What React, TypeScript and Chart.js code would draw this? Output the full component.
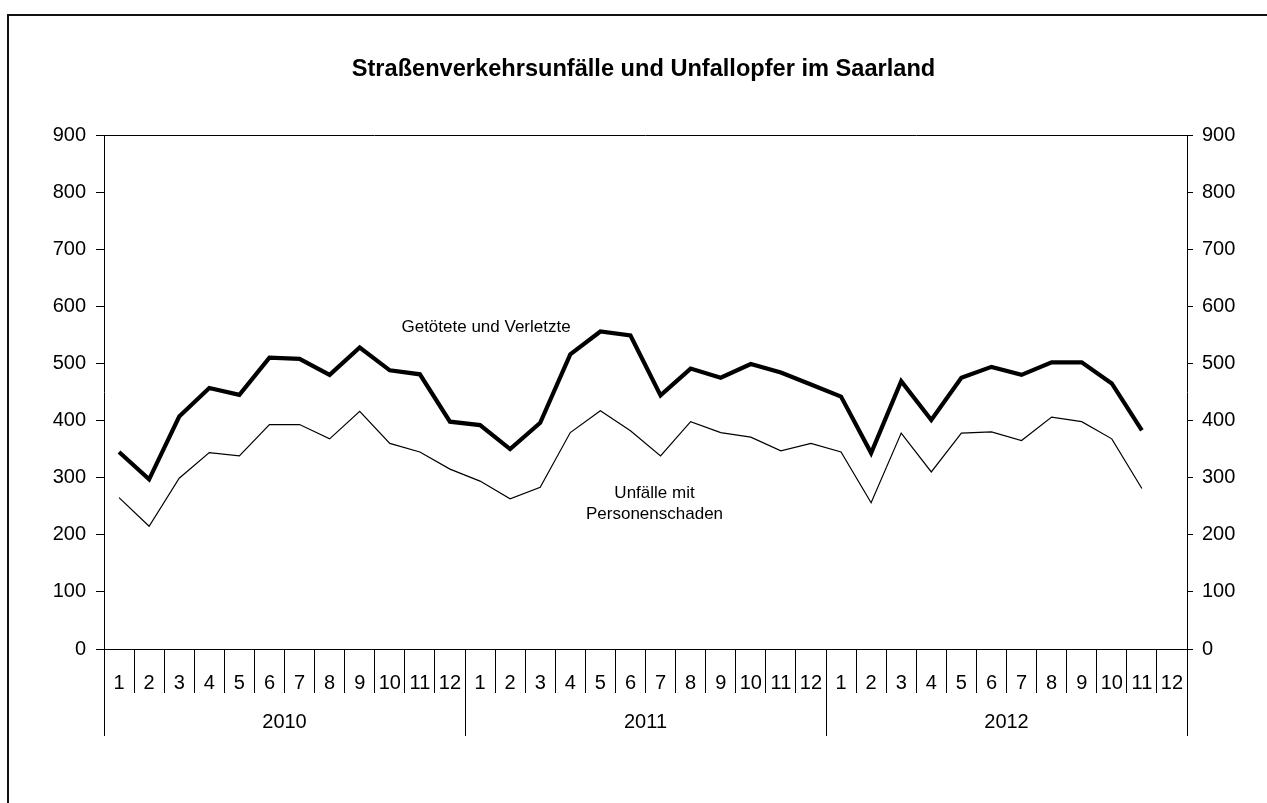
import React, { useEffect, useRef } from "react";
import { Chart, registerables } from "chart.js";

Chart.register(...registerables);

const monthLabels = [
  "1", "2", "3", "4", "5", "6", "7", "8", "9", "10", "11", "12",
  "1", "2", "3", "4", "5", "6", "7", "8", "9", "10", "11", "12",
  "1", "2", "3", "4", "5", "6", "7", "8", "9", "10", "11", "12",
];
const yearLabels = ["2010", "2011", "2012"];

const getoeteteVerletzte = [
  345, 297, 407, 457, 445, 510, 508, 480, 528, 488, 481, 398,
  392, 350, 396, 516, 556, 549, 444, 491, 475, 499, 484, 463,
  442, 343, 469, 401, 475, 494, 480, 502, 502, 465, 383, null,
];
const unfaelleMitPersonenschaden = [
  265, 215, 299, 344, 338, 393, 393, 368, 416, 360, 345, 315,
  294, 263, 283, 379, 417, 382, 338, 398, 379, 371, 347, 360,
  345, 256, 378, 310, 378, 380, 365, 406, 398, 368, 281, null,
];

const titleText = "Straßenverkehrsunfälle und Unfallopfer im Saarland";
const labelGetoetete = "Getötete und Verletzte";
const labelUnfaelle = ["Unfälle mit", "Personenschaden"];

const FONT = "'Liberation Sans', Arial, sans-serif";

export default function App() {
  const canvasRef = useRef<HTMLCanvasElement | null>(null);

  useEffect(() => {
    const canvas = canvasRef.current;
    if (!canvas) return;

    const decorPlugin = {
      id: "decor",
      beforeDraw(chart: any) {
        const ctx = chart.ctx;
        ctx.save();
        ctx.fillStyle = "#fff";
        ctx.fillRect(0, 0, chart.width, chart.height);
        ctx.restore();
      },
      afterDraw(chart: any) {
        const ctx = chart.ctx;
        const area = chart.chartArea;
        const xs = chart.scales.x;
        const ys = chart.scales.y;
        ctx.save();
        // outer frame
        ctx.fillStyle = "#111";
        ctx.fillRect(7, 14, 2, chart.height - 14);
        ctx.fillRect(7, 14, chart.width - 7, 2);
        // plot area top line
        ctx.strokeStyle = "#000";
        ctx.lineWidth = 1;
        ctx.beginPath();
        ctx.moveTo(Math.round(area.left) - 0.5, Math.round(area.top) + 0.5);
        ctx.lineTo(Math.round(area.right) + 0.5, Math.round(area.top) + 0.5);
        ctx.stroke();
        // title
        ctx.fillStyle = "#000";
        ctx.textAlign = "center";
        ctx.textBaseline = "middle";
        ctx.font = "bold 23.6px " + FONT;
        ctx.fillText(titleText, (area.left + area.right) / 2 - 2, 69);
        // annotations
        ctx.font = "17px " + FONT;
        ctx.fillText(labelGetoetete, xs.getPixelForValue(12.2), ys.getPixelForValue(564));
        const ux = xs.getPixelForValue(17.8);
        ctx.fillText(labelUnfaelle[0], ux, ys.getPixelForValue(272));
        ctx.fillText(labelUnfaelle[1], ux, ys.getPixelForValue(236));
        ctx.restore();
      },
    };

    const chart = new Chart(canvas, {
      type: "line",
      data: {
        labels: monthLabels,
        datasets: [
          {
            label: "Getötete und Verletzte",
            data: getoeteteVerletzte,
            borderColor: "#000",
            borderWidth: 4.2,
            pointRadius: 0,
            tension: 0,
            fill: false,
            xAxisID: "x",
            yAxisID: "y",
          },
          {
            label: "Unfälle mit Personenschaden",
            data: unfaelleMitPersonenschaden,
            borderColor: "#000",
            borderWidth: 1.2,
            pointRadius: 0,
            tension: 0,
            fill: false,
            xAxisID: "x",
            yAxisID: "y",
          },
        ],
      },
      options: {
        responsive: false,
        animation: false,
        devicePixelRatio: 1,
        layout: { padding: { top: 135, left: 0, right: 0, bottom: 0 } },
        plugins: {
          legend: { display: false },
          tooltip: { enabled: false },
          title: { display: false },
        },
        scales: {
          x: {
            type: "category",
            position: "bottom",
            offset: true,
            weight: 0,
            grid: {
              offset: true,
              drawOnChartArea: false,
              drawTicks: true,
              tickLength: 44,
              color: "#000",
              lineWidth: 1,
            },
            border: { display: true, color: "#000", width: 1 },
            ticks: {
              color: "#000",
              font: { family: FONT, size: 20 },
              padding: -22,
              maxRotation: 0,
              autoSkip: false,
            },
            afterFit(scale: any) {
              scale.height = 44;
            },
          },
          xYear: {
            type: "category",
            position: "bottom",
            labels: yearLabels,
            offset: true,
            weight: 1,
            grid: {
              offset: true,
              drawOnChartArea: false,
              drawTicks: true,
              tickLength: 43,
              color: "#000",
              lineWidth: 1,
            },
            border: { display: false },
            ticks: {
              color: "#000",
              font: { family: FONT, size: 20 },
              padding: -26,
              maxRotation: 0,
              autoSkip: false,
            },
            afterFit(scale: any) {
              scale.height = 110;
            },
          },
          y: {
            position: "left",
            min: 0,
            max: 900,
            grid: {
              drawOnChartArea: false,
              drawTicks: true,
              tickLength: 8,
              color: "#000",
            },
            border: { display: true, color: "#000", width: 1 },
            ticks: {
              stepSize: 100,
              color: "#000",
              font: { family: FONT, size: 20 },
              padding: 10,
            },
            afterFit(scale: any) {
              scale.width = 104;
            },
          },
          y2: {
            position: "right",
            min: 0,
            max: 900,
            grid: {
              drawOnChartArea: false,
              drawTicks: true,
              tickLength: 6,
              color: "#000",
            },
            border: { display: true, color: "#000", width: 1 },
            ticks: {
              stepSize: 100,
              color: "#000",
              font: { family: FONT, size: 20 },
              padding: 9,
            },
            afterFit(scale: any) {
              scale.width = 80;
            },
          },
        },
      },
      plugins: [decorPlugin],
    } as any);

    return () => {
      chart.destroy();
    };
  }, []);

  return (
    <div style={{ position: "absolute", left: 0, top: 0, width: 1267, height: 803, background: "#fff" }}>
      <canvas ref={canvasRef} width={1267} height={803} style={{ display: "block" }} />
    </div>
  );
}
